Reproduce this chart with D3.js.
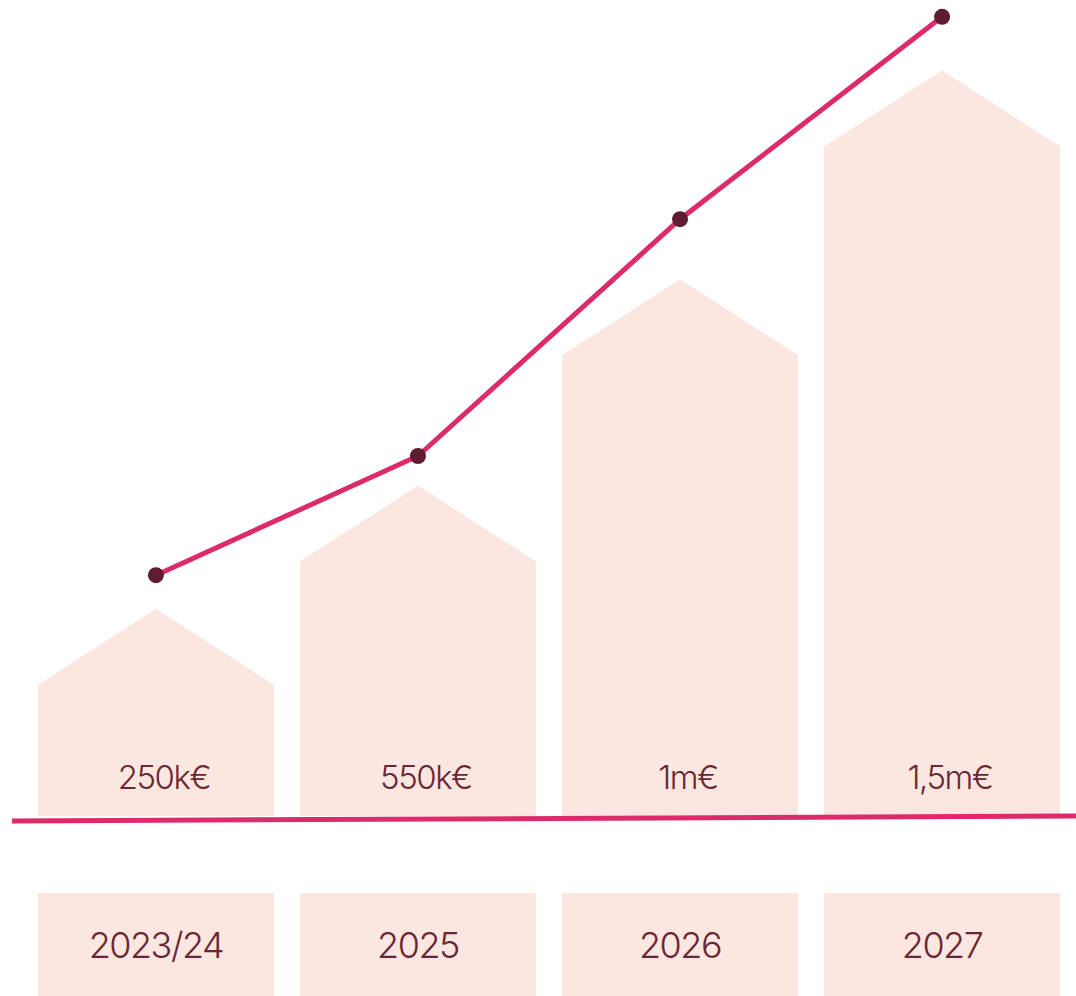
<!DOCTYPE html>
<html>
<head>
<meta charset="utf-8">
<script src="https://cdn.jsdelivr.net/npm/d3@7"></script>
<style>
  html, body { margin: 0; padding: 0; background: #ffffff; }
  svg { display: block; }
  text { font-family: Inter, "Noto Sans", sans-serif; }
</style>
</head>
<body>
<svg id="chart" width="1076" height="996"></svg>
<script>
// ---- data ----
const categories = ["2023/24", "2025", "2026", "2027"];
const valueLabels = ["250k€", "550k€", "1m€", "1,5m€"];
// relative heights (index 0–100) of the house-shaped bars' roof peaks
const barLevel = [25.9, 41.3, 67.1, 93.2];
// relative heights (index 0–100) of the growth line's points
const lineLevel = [30.1, 45.0, 74.6, 99.9];

// ---- layout ----
const W = 1076, H = 996;
const svg = d3.select("#chart");

const x = d3.scaleBand().domain(categories).range([38, 1060]).paddingInner(0.1);
const y = d3.scaleLinear().domain([0, 100]).range([816, 16]);

const roof = 76;
const fillCol = "#fce6e0";
const lineCol = "#dd2a6b";
const dotCol = "#5f1b30";
const textCol = "#6b2636";

const data = categories.map((c, i) => ({ cat: c, label: valueLabels[i], bar: barLevel[i], line: lineLevel[i] }));

// house-shaped bars
svg.append("g").selectAll("path").data(data).join("path")
  .attr("fill", fillCol)
  .attr("d", d => {
    const x0 = x(d.cat), x1 = x0 + x.bandwidth(), xc = x0 + x.bandwidth() / 2;
    const top = y(d.bar), base = y(0);
    return `M${x0},${base}L${x0},${top + roof}L${xc},${top}L${x1},${top + roof}L${x1},${base}Z`;
  });

// value labels inside bars
svg.append("g").selectAll("text").data(data).join("text")
  .attr("x", d => x(d.cat) + x.bandwidth() / 2 + 8)
  .attr("y", y(0) - 27)
  .attr("text-anchor", "middle")
  .attr("fill", textCol)
  .attr("font-size", 33)
  .attr("font-weight", 300)
  .attr("letter-spacing", -1.5)
  .text(d => d.label);

// baseline
svg.append("line")
  .attr("x1", 12).attr("y1", y(0) + 5)
  .attr("x2", W).attr("y2", y(0))
  .attr("stroke", lineCol).attr("stroke-width", 5);

// growth line
const lineGen = d3.line().x(d => x(d.cat) + x.bandwidth() / 2).y(d => y(d.line));
svg.append("path").datum(data)
  .attr("d", lineGen)
  .attr("fill", "none")
  .attr("stroke", lineCol)
  .attr("stroke-width", 5);

svg.append("g").selectAll("circle").data(data).join("circle")
  .attr("cx", d => x(d.cat) + x.bandwidth() / 2)
  .attr("cy", d => y(d.line))
  .attr("r", 8)
  .attr("fill", dotCol);

// category boxes
const cat = svg.append("g").selectAll("g").data(data).join("g");
cat.append("rect")
  .attr("x", d => x(d.cat))
  .attr("y", 893)
  .attr("width", x.bandwidth())
  .attr("height", H - 893)
  .attr("fill", fillCol);
cat.append("text")
  .attr("x", d => x(d.cat) + x.bandwidth() / 2)
  .attr("y", 958)
  .attr("text-anchor", "middle")
  .attr("fill", textCol)
  .attr("font-size", 36)
  .attr("font-weight", 300)
  .attr("letter-spacing", -1.5)
  .text(d => d.cat);
</script>
</body>
</html>
